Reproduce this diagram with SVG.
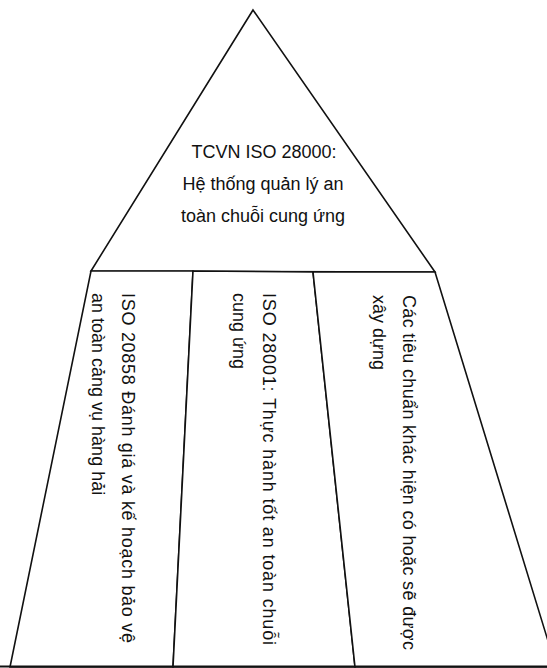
<svg xmlns="http://www.w3.org/2000/svg" width="547" height="668" viewBox="0 0 547 668">
  <style>
    .shape { fill: #ffffff; stroke: #111111; stroke-width: 1.6; stroke-linejoin: miter; }
    .t { font-family: "Liberation Sans", Arial, sans-serif; font-size: 18px; fill: #111111; }
    .mid { text-anchor: middle; }
  </style>
  <rect x="0" y="0" width="547" height="668" fill="#ffffff"/>
  <g id="apex">
    <polygon class="shape" points="253,10 91,271 435,272"/>
    <text class="t mid" x="264" y="158">TCVN ISO 28000:</text>
    <text class="t mid" x="263" y="190">Hệ thống quản lý an</text>
    <text class="t mid" x="263" y="222">toàn chuỗi cung ứng</text>
  </g>
  <g id="col1">
    <polygon class="shape" points="91,271 193,271 173,667 10,667"/>
    <g transform="translate(122,293) rotate(90)">
      <text class="t" x="0" y="0" textLength="350" lengthAdjust="spacing">ISO 20858 Đánh giá và kế hoạch bảo vệ</text>
      <text class="t" x="0" y="30">an toàn cảng vụ hàng hải</text>
    </g>
  </g>
  <g id="col2">
    <polygon class="shape" points="193,271 313,272 355,667 173,667"/>
    <g transform="translate(263,293) rotate(90)">
      <text class="t" x="0" y="0" textLength="352" lengthAdjust="spacing">ISO 28001: Thực hành tốt an toàn chuỗi</text>
      <text class="t" x="0" y="30">cung ứng</text>
    </g>
  </g>
  <g id="col3">
    <polygon class="shape" points="313,272 435,272 556,667 355,667"/>
    <g transform="translate(403,295) rotate(90)">
      <text class="t" x="0" y="0" textLength="355" lengthAdjust="spacing">Các tiêu chuẩn khác hiện có hoặc sẽ được</text>
      <text class="t" x="0" y="30">xây dựng</text>
    </g>
  </g>
  <g id="connectors">
    <line x1="0" y1="666.5" x2="547" y2="666.5" stroke="#111111" stroke-width="2"/>
  </g>
</svg>
